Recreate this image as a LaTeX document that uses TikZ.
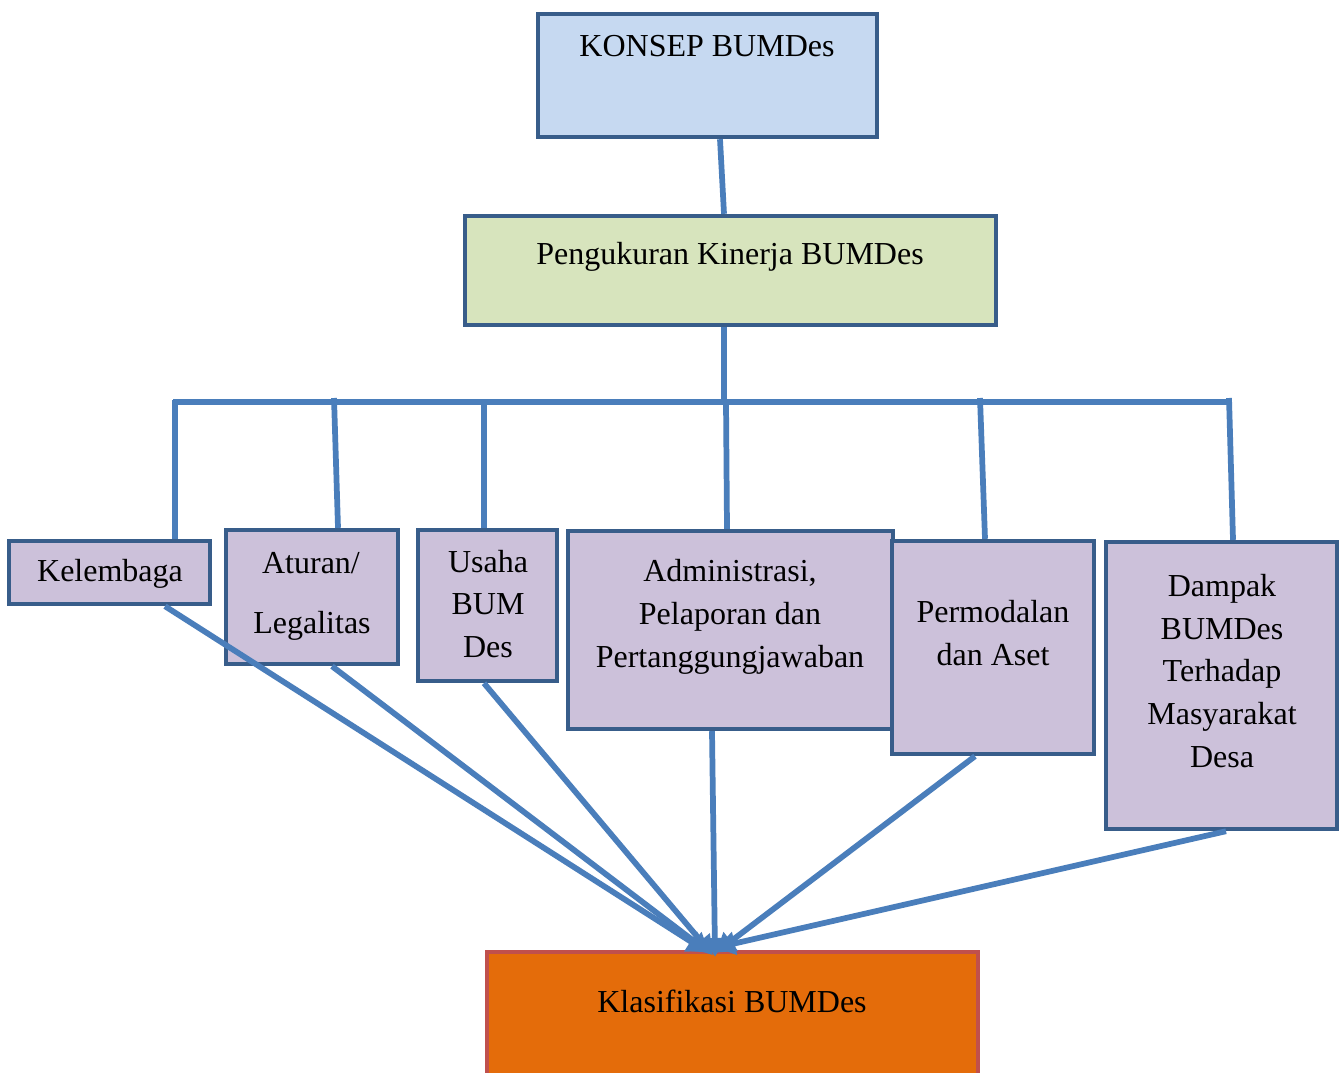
\documentclass[tikz,border=0pt]{standalone}
\usepackage{fontspec}
\setmainfont{Liberation Serif}
\usetikzlibrary{arrows.meta,calc}
\definecolor{bordc}{RGB}{56,93,138}
\definecolor{linec}{RGB}{74,126,187}
\definecolor{topfill}{RGB}{198,217,241}
\definecolor{greenfill}{RGB}{215,228,189}
\definecolor{purplefill}{RGB}{204,193,218}
\definecolor{orangefill}{RGB}{228,108,10}
\definecolor{redbord}{RGB}{192,80,77}
\tikzset{
  box/.style={draw=bordc, line width=3.3pt, rectangle, inner sep=0pt},
  lbl/.style={font=\fontsize{24}{32}\selectfont, align=center, inner sep=0pt, text=black},
  conn/.style={draw=linec, line width=4.3pt},
  arr/.style={conn, -{Triangle[length=14pt,width=17pt]}, shorten >=-2pt}
}
\begin{document}
\begin{tikzpicture}[x=0.75pt,y=-0.75pt]
\clip (0,0) rectangle (1341,1072);
\fill[white] (0,0) rectangle (1341,1072);
% boxes
\node[box, fill=topfill, minimum width=254.25pt, minimum height=92.25pt] (konsep) at (707.5,75.5) {};
\node[box, fill=greenfill, minimum width=398.25pt, minimum height=81.75pt] (peng) at (730.5,270.5) {};
\node[box, fill=purplefill, minimum width=150.75pt, minimum height=47.25pt] (kel) at (109.5,572.5) {};
\node[box, fill=purplefill, minimum width=129pt, minimum height=100.5pt] (atur) at (312,597) {};
\node[box, fill=purplefill, minimum width=104.25pt, minimum height=113.25pt] (usaha) at (487.5,605.5) {};
\node[box, fill=purplefill, minimum width=243.75pt, minimum height=148.5pt] (admin) at (730.5,630) {};
\node[box, fill=purplefill, minimum width=151.5pt, minimum height=159.75pt] (modal) at (993,647.5) {};
\node[box, fill=purplefill, minimum width=173.25pt, minimum height=215.25pt] (dampak) at (1221.5,685.5) {};
\node[box, draw=redbord, fill=orangefill, minimum width=368.25pt, minimum height=120pt] (klas) at (732.5,1032) {};
% texts
\node[lbl] (tkonsep) at (707,46) {KONSEP BUMDes};
\node[lbl] (tpeng) at (730,257) {Pengukuran Kinerja BUMDes};
\node[lbl] (tkel) at (110,574) {Kelembaga};
\node[lbl] (tatur1) at (311,563) {Aturan/};
\node[lbl] (tatur2) at (312,626) {Legalitas};
\node[lbl] (tusaha) at (488,604) {Usaha\\BUM\\Des};
\node[lbl] (tadmin) at (730,617) {Administrasi,\\Pelaporan dan\\Pertanggungjawaban};
\node[lbl] (tmodal) at (993,633) {Permodalan\\dan Aset};
\node[lbl] (tdampak) at (1222,671) {Dampak\\BUMDes\\Terhadap\\Masyarakat\\Desa};
\node[lbl] (tklas) at (732,1001) {Klasifikasi BUMDes};
% tree connectors
\coordinate (bus) at (724,402);
\coordinate (busL) at (173,402);
\coordinate (busR) at (1231,402);
\draw[conn] ([shift={(12.5,0)}]konsep.south) -- ([shift={(-6.5,0)}]peng.north);
\draw[conn] ([shift={(-6.5,0)}]peng.south) -- (bus);
\draw[conn] (busL) -- (busR);
\draw[conn] (175,400) -- ([shift={(65.5,0)}]kel.north);
\draw[conn] (334,398) -- ([shift={(26,0)}]atur.north);
\draw[conn] (484,402) -- ([shift={(-3.5,0)}]usaha.north);
\draw[conn] (bus) ++(2,0) -- ([shift={(-3.5,0)}]admin.north);
\draw[conn] (980,398) -- ([shift={(-8,0)}]modal.north);
\draw[conn] (1229,398) -- ([shift={(11.5,0)}]dampak.north);
% arrows to Klasifikasi
\draw[arr] ([shift={(55.5,0)}]kel.south) -- (704,950);
\draw[arr] ([shift={(20,0)}]atur.south) -- (707,951);
\draw[arr] ([shift={(-3.5,0)}]usaha.south) -- (711,953);
\draw[arr] ([shift={(-18.5,0)}]admin.south) -- (715,954);
\draw[arr] ([shift={(-18,0)}]modal.south) -- (718,951);
\draw[arr] ([shift={(4.5,0)}]dampak.south) -- (719,947);
\end{tikzpicture}
\end{document}
